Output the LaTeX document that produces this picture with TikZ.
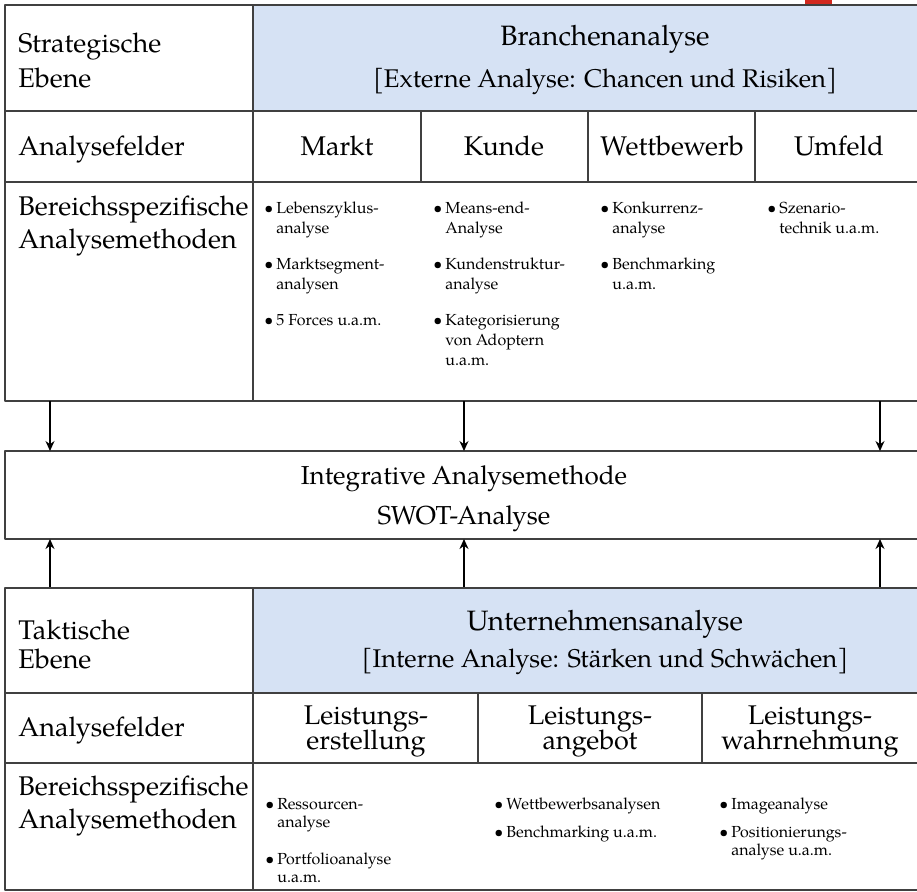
\documentclass[tikz,border=0pt]{standalone}
\usepackage{fontspec}
\setmainfont{TeX Gyre Pagella}
\usetikzlibrary{arrows.meta}
\definecolor{kopfblau}{RGB}{214,226,244}
\definecolor{eckrot}{RGB}{210,40,30}
\newlength{\punktind}\setlength{\punktind}{6pt}
\newcommand{\punkt}[1][8pt]{\par\vspace{#1}\hangindent=\punktind\hangafter=1\noindent\makebox[\punktind][l]{\textbullet}}
\newcommand{\liste}[2]{\parbox[t]{#1}{\lineskiplimit=-\maxdimen\raggedright\hangindent=\punktind\hangafter=1\noindent\makebox[\punktind][l]{\textbullet}#2}}
\newcommand{\links}[1]{\parbox[t]{130pt}{\lineskiplimit=-\maxdimen\raggedright #1}}
\newcommand{\mittig}[1]{\parbox[t]{400pt}{\lineskiplimit=-\maxdimen\centering #1}}
\newcommand{\unterzeile}[1]{{\fontsize{12.8}{21}\selectfont #1}}
\tikzset{
  linie/.style={draw=black!75, line width=0.6pt},
  gross/.style={font=\fontsize{13.5}{#1}\selectfont, inner sep=0pt},
  gross/.default=17.5,
  kopf/.style={font=\fontsize{14}{#1}\selectfont, inner sep=0pt, anchor=base},
  klein/.style={font=\fontsize{8}{#1}\selectfont, inner sep=0pt, anchor=base west},
  klein/.default=10,
  pfeil/.style={draw=black, line width=0.6pt, -{Stealth[length=5pt,width=4.5pt]}}
}
\begin{document}
\begin{tikzpicture}[x=0.5pt, y=-0.5pt, line join=round]
	\useasboundingbox (0,0) rectangle (917,891);
	\clip (0,0) rectangle (917,891);
	\path
	(5,401) coordinate (obenU)
	(5,451) coordinate (swotO)
	(5,539) coordinate (swotU)
	(5,588) coordinate (untenO);
	% Eckmarke
	\fill[eckrot] (805,0) rectangle (832,5);
	% strategische Ebene
	\fill[kopfblau] (253,5) rectangle (923,111);
	\draw[linie] (5,5) rectangle (923,401)
	(5,111) -- (923,111) (5,182) -- (923,182) (253,5) -- (253,401);
	\foreach \x in {421,588,755}
	\draw[linie] (\x,111) -- (\x,182);
	\node[gross, anchor=base west] (strat) at (18,52) {\links{Strategische\\Ebene}};
	\node[kopf=21] (branche) at (605,45) {\mittig{Branchenanalyse\\ \unterzeile{[Externe Analyse: Chancen und Risiken]}}};
	\node[gross, anchor=base west] (felderA) at (18,155) {Analysefelder};
	\node[gross, anchor=base] (markt) at (337,155) {Markt};
	\node[gross, anchor=base] (kunde) at (504,155) {Kunde};
	\node[gross, anchor=base] (wettb) at (672,155) {Wettbewerb};
	\node[gross, anchor=base] (umfeld) at (839,155) {Umfeld};
	\node[gross=16.5, anchor=base west] (methA) at (18,215) {\links{Bereichsspezifische\\Analysemethoden}};
	\node[klein] (lmarkt) at (264,213) {\liste{80pt}{Lebenszyklus-\newline analyse\punkt Marktsegment-\newline analysen\punkt 5 Forces u.a.m.}};
	\node[klein] (lkunde) at (433,213) {\liste{80pt}{Means-end-\newline Analyse\punkt Kundenstruktur-\newline analyse\punkt Kategorisierung\newline von Adoptern\newline u.a.m.}};
	\node[klein] (lwettb) at (600,213) {\liste{80pt}{Konkurrenz-\newline analyse\punkt Benchmarking\newline u.a.m.}};
	\node[klein] (lumfeld) at (767,213) {\liste{80pt}{Szenario-\newline technik u.a.m.}};
	% SWOT
	\draw[linie] (swotO) rectangle (923,539);
	\node[font=\fontsize{13}{20}\selectfont, inner sep=0pt, anchor=base] (swot) at (464,484) {\mittig{Integrative Analysemethode\\SWOT-Analyse}};
	\foreach \x in {50,464,880}{
		\draw[pfeil] (\x,0 |- obenU) -- (\x,0 |- swotO);
		\draw[pfeil] (\x,0 |- untenO) -- (\x,0 |- swotU);
	}
	% taktische Ebene
	\fill[kopfblau] (253,588) rectangle (923,693);
	\draw[linie] (untenO) rectangle (923,890)
	(5,693) -- (923,693) (5,763) -- (923,763) (253,588) -- (253,890);
	\foreach \x in {478,702}
	\draw[linie] (\x,693) -- (\x,763);
	\node[gross=14.5, anchor=base west] (takt) at (18,639) {\links{Taktische\\Ebene}};
	\node[kopf=18.5] (unternehmen) at (605,630) {\mittig{Unternehmensanalyse\\ \unterzeile{[Interne Analyse: Stärken und Schwächen]}}};
	\node[gross, anchor=base west] (felderB) at (18,736) {Analysefelder};
	\node[gross=12.5, anchor=base] (erst) at (366,724) {\mittig{Leistungs-\\erstellung}};
	\node[gross=12.5, anchor=base] (angeb) at (590,724) {\mittig{Leistungs-\\angebot}};
	\node[gross=12.5, anchor=base] (wahrn) at (810,724) {\mittig{Leistungs-\\wahrnehmung}};
	\node[gross=16.5, anchor=base west] (methB) at (18,795) {\links{Bereichsspezifische\\Analysemethoden}};
	\node[klein=9] (lerst) at (265,809) {\liste{90pt}{Ressourcen-\newline analyse\punkt[9.5pt]Portfolioanalyse\newline u.a.m.}};
	\node[klein=9] (langeb) at (494,809) {\liste{100pt}{Wettbewerbsanalysen\punkt[5pt]Benchmarking u.a.m.}};
	\node[klein=9] (lwahrn) at (719,809) {\liste{90pt}{Imageanalyse\punkt[5pt]Positionierungs-\newline analyse u.a.m.}};
\end{tikzpicture}
\end{document}
